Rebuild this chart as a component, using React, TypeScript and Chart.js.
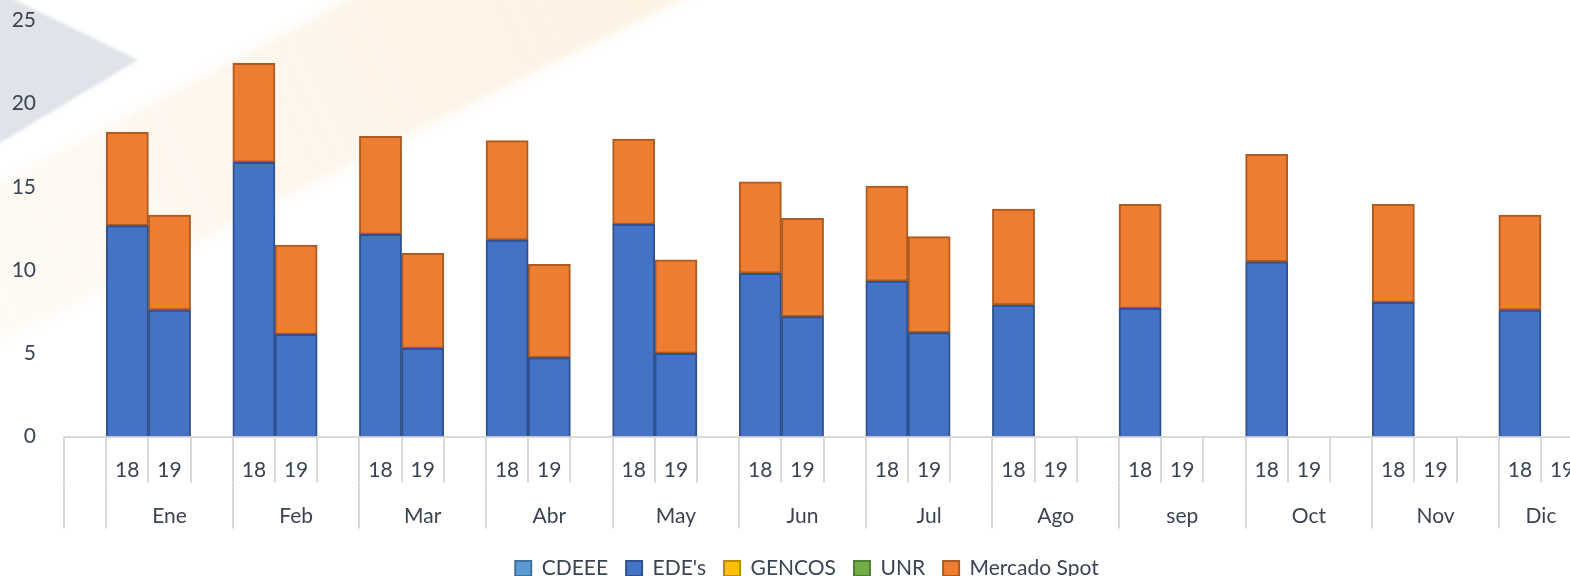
import React, { useEffect, useRef } from "react";
import { Chart, registerables } from "chart.js";

Chart.register(...registerables);

// ---------- data ----------
const months = ["Ene", "Feb", "Mar", "Abr", "May", "Jun", "Jul", "Ago", "sep", "Oct", "Nov", "Dic"];
const years = ["18", "19"];
const seriesNames = ["CDEEE", "EDE's", "GENCOS", "UNR", "Mercado Spot"];

const cdeee18 = [0, 0, 0, 0, 0, 0, 0, 0, 0, 0, 0, 0];
const cdeee19 = [0, 0, 0, 0, 0, 0, 0, null, null, null, null, null];
const edes18 = [12.67, 16.48, 12.15, 11.81, 12.75, 9.81, 9.34, 7.9, 7.7, 10.5, 8.06, 7.6];
const edes19 = [7.6, 6.14, 5.3, 4.74, 5.0, 7.2, 6.24, null, null, null, null, null];
const gencos18 = [0, 0, 0, 0, 0, 0, 0, 0, 0, 0, 0, 0];
const gencos19 = [0, 0, 0, 0, 0, 0, 0, null, null, null, null, null];
const unr18 = [0, 0, 0, 0, 0, 0, 0, 0, 0, 0, 0, 0];
const unr19 = [0, 0, 0, 0, 0, 0, 0, null, null, null, null, null];
const spot18 = [5.61, 5.95, 5.89, 5.97, 5.13, 5.5, 5.71, 5.77, 6.25, 6.46, 5.89, 5.71];
const spot19 = [5.71, 5.37, 5.71, 5.61, 5.61, 5.91, 5.77, null, null, null, null, null];

const yMin = 0;
const yMax = 25;
const yStep = 5;

// ---------- styling ----------
const FONT = "Lato, 'Open Sans', sans-serif";
const TEXT = "#3b4453";
const AXIS = "#d9d9d9";
const fills = ["#5B9BD5", "#4472C4", "#FFC000", "#70AD47", "#ED7D31"];
const borders = ["#41719C", "#2F528F", "#BC8C00", "#507E32", "#AE5A21"];

// ---------- slot layout: lead blank, then 18, 19, gap per month ----------
function toSlots<T>(a18: T[], a19: T[], blank: T): T[] {
  const out: T[] = [blank];
  months.forEach((_, i) => {
    if (i > 0) out.push(blank);
    out.push(a18[i], a19[i]);
  });
  return out;
}

const yearRow = toSlots(months.map(() => years[0]), months.map(() => years[1]), "");
const nSlots = yearRow.length;

// month group boundaries/centres in slot units (slot i centred on value i)
const groupBounds: number[] = [-0.5];
const monthCentres = new Map<number, string>();
monthCentres.set(0, "");
months.forEach((m, i) => {
  const left = 0.5 + 3 * i;
  const right = i < months.length - 1 ? left + 3 : nSlots - 0.5;
  groupBounds.push(left);
  monthCentres.set((left + right) / 2, m);
});
groupBounds.push(nSlots - 0.5);
const boundSet = new Set(groupBounds);

const seriesData = [
  toSlots(cdeee18, cdeee19, null),
  toSlots(edes18, edes19, null),
  toSlots(gencos18, gencos19, null),
  toSlots(unr18, unr19, null),
  toSlots(spot18, spot19, null),
];

const watermark = {
  id: "watermark",
  beforeDraw(chart: any) {
    const ctx = chart.ctx;
    ctx.save();
    ctx.filter = "blur(5px)";
    const g = ctx.createLinearGradient(700, 0, 0, 340);
    g.addColorStop(0, "rgba(248,190,120,0.22)");
    g.addColorStop(1, "rgba(248,190,120,0.08)");
    ctx.fillStyle = g;
    ctx.beginPath();
    ctx.moveTo(385, -20);
    ctx.lineTo(720, -20);
    ctx.lineTo(-20, 350);
    ctx.lineTo(-20, 195);
    ctx.closePath();
    ctx.fill();
    ctx.filter = "blur(1.5px)";
    ctx.fillStyle = "#e0e4ea";
    ctx.beginPath();
    ctx.moveTo(-5, -10);
    ctx.lineTo(138, 60);
    ctx.lineTo(-5, 146);
    ctx.closePath();
    ctx.fill();
    ctx.restore();
  },
};

export default function App() {
  const ref = useRef<HTMLCanvasElement>(null);
  useEffect(() => {
    document.body.style.margin = "0";
    const font = { family: FONT, size: 21 };
    const chart = new Chart(ref.current as HTMLCanvasElement, {
      type: "bar",
      data: {
        labels: yearRow,
        datasets: seriesNames.map((name, k) => ({
          label: name,
          data: seriesData[k],
          backgroundColor: fills[k],
          borderColor: borders[k],
          borderWidth: 2,
          borderSkipped: k === 4 ? false : "start",
          barPercentage: 1,
          categoryPercentage: 1,
        })),
      },
      options: {
        responsive: false,
        animation: false,
        layout: { padding: { top: 20.5, left: 0, right: 0, bottom: 0 } },
        plugins: {
          legend: {
            position: "bottom",
            labels: { font, color: TEXT, boxWidth: 16, boxHeight: 15, padding: 18 },
          },
          tooltip: { enabled: false },
        },
        scales: {
          x: {
            type: "category",
            position: "bottom",
            weight: 1,
            stacked: true,
            offset: true,
            grid: {
              display: true,
              drawOnChartArea: false,
              drawTicks: true,
              tickLength: 46,
              offset: true,
              color: AXIS,
              tickColor: AXIS,
              lineWidth: 2,
              tickWidth: 2,
            },
            border: { display: true, color: AXIS, width: 2 },
            ticks: { autoSkip: false, maxRotation: 0, minRotation: 0, padding: -25, font, color: TEXT },
            afterFit: (s: any) => {
              s.height = 46;
            },
          },
          x2: {
            type: "linear",
            position: "bottom",
            weight: 2,
            min: -0.5,
            max: nSlots - 0.5,
            offset: false,
            grid: {
              display: true,
              drawOnChartArea: false,
              drawTicks: true,
              tickLength: 46,
              offset: false,
              color: (c: any) => (c.tick && boundSet.has(c.tick.value) ? AXIS : "rgba(0,0,0,0)"),
              tickColor: (c: any) => (c.tick && boundSet.has(c.tick.value) ? AXIS : "rgba(0,0,0,0)"),
              lineWidth: 2,
              tickWidth: 2,
            },
            border: { display: false },
            afterBuildTicks: (s: any) => {
              const vals = [...groupBounds, ...Array.from(monthCentres.keys())].sort((a, b) => a - b);
              s.ticks = vals.map((v) => ({ value: v }));
            },
            ticks: {
              autoSkip: false,
              maxRotation: 0,
              minRotation: 0,
              padding: -25,
              font,
              color: TEXT,
              callback: (v: any) => monthCentres.get(Number(v)) ?? "",
            },
            afterFit: (s: any) => {
              s.height = 57.5;
            },
          },
          y: {
            type: "linear",
            stacked: true,
            min: yMin,
            max: yMax,
            grid: { display: false, drawTicks: false },
            border: { display: false },
            ticks: { stepSize: yStep, padding: 28, font, color: TEXT },
            afterFit: (s: any) => {
              s.width = 64;
              s.paddingTop = 12;
              s.paddingBottom = 12;
            },
          },
          yPad: {
            type: "linear",
            position: "right",
            display: true,
            grid: { display: false, drawTicks: false },
            border: { display: false },
            ticks: { display: false },
            afterFit: (s: any) => {
              s.width = 30.8;
              s.paddingTop = 0;
              s.paddingBottom = 0;
            },
          },
        },
      } as any,
      plugins: [watermark],
    });
    return () => chart.destroy();
  }, []);
  return (
    <div
      style={{
        position: "fixed",
        left: 0,
        top: 0,
        width: 1570,
        height: 576,
        overflow: "hidden",
        background: "#ffffff",
      }}
    >
      <canvas ref={ref} width={1614} height={589} style={{ display: "block" }} />
    </div>
  );
}
